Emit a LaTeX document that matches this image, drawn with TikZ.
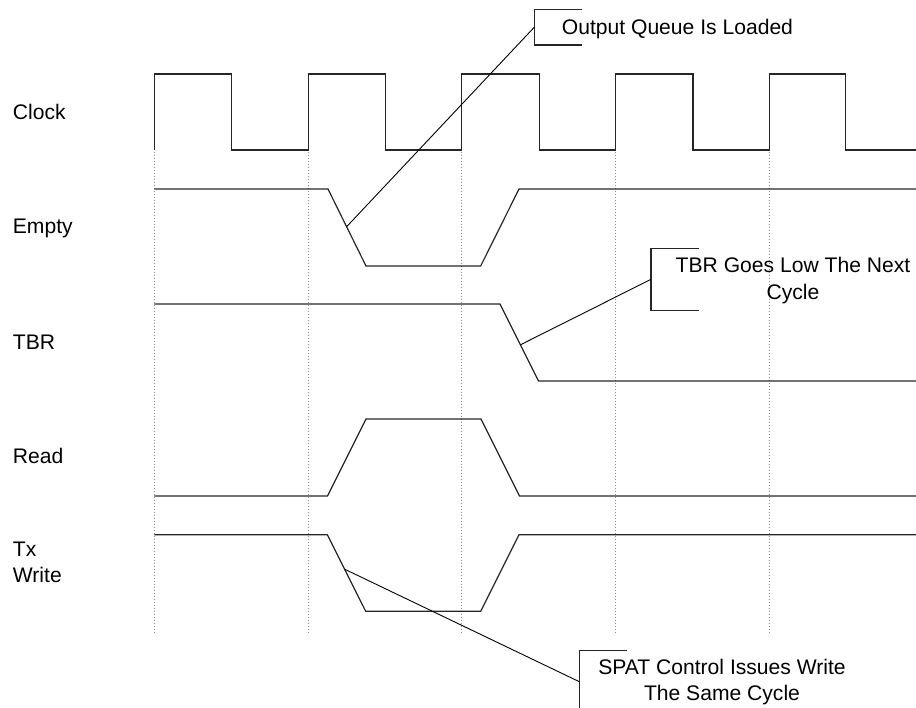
\documentclass[tikz,border=0pt]{standalone}
\usepackage{fontspec}
\setmainfont{Liberation Sans}
\usetikzlibrary{calc}
\begin{document}
\begin{tikzpicture}[x=1pt,y=-1pt,
  wave/.style={line width=1.2pt,draw=black!85,line join=miter},
  grid/.style={line width=0.8pt,draw=black!45,dash pattern=on 0.9pt off 2.1pt},
  lead/.style={line width=0.9pt,draw=black},
  brk/.style={line width=1.1pt,draw=black!85},
  txt/.style={inner sep=0pt,font=\fontsize{21.1}{26.3}\selectfont},
  lbl/.style={txt,anchor=base west,align=left}]
\useasboundingbox (0,0) rectangle (916,708);
% grid
\foreach \x in {154.3,308.3,461.7,615.4,769.1}
  \draw[grid] (\x,151.7) -- (\x,632);
% clock
\draw[wave] (154.3,150) -- (154.3,74) -- (231.7,74) -- (231.7,150) -- (308.3,150) -- (308.3,74)
  -- (385.7,74) -- (385.7,150) -- (461.7,150) -- (461.7,74) -- (539.2,74) -- (539.2,150)
  -- (615.4,150) -- (615.4,74) -- (692.9,74) -- (692.9,150) -- (769.1,150) -- (769.1,74)
  -- (845.7,74) -- (845.7,150) -- (916,150);
% empty
\coordinate (eA) at (328,189);
\coordinate (eB) at (366,266);
\draw[wave] (154.3,189) -- (eA) -- (eB) -- (480.7,266) -- (519,189) -- (916,189);
% TBR
\coordinate (tA) at (500,304);
\coordinate (tB) at (538.5,381);
\draw[wave] (154.3,304) -- (tA) -- (tB) -- (916,381);
% Read
\draw[wave] (154.3,496) -- (327.5,496) -- (366,419) -- (481,419) -- (519.5,496) -- (916,496);
% Tx write
\coordinate (xA) at (327.3,534.7);
\coordinate (xB) at (365.7,611.3);
\draw[wave] (154.3,534.7) -- (xA) -- (xB) -- (480.7,611.3) -- (519,534.7) -- (916,534.7);
% labels
\node[lbl] (lclk) at (12.7,119.4) {Clock};
\node[lbl] (lemp) at (12.7,234) {Empty};
\node[lbl] (ltbr) at (12.7,349.3) {TBR};
\node[lbl] (lrd) at (12.7,463.5) {Read};
\node[lbl] (ltx) at (12.7,582.7) {Tx\\Write};
% callout 1
\draw[brk] (582,9.3) -- (534.3,9.3) -- (534.3,45) -- (582,45);
\coordinate (c1) at (534.3,27.2);
\node[txt,anchor=base west] (t1) at (561.7,34.5) {Output Queue Is Loaded};
\coordinate (e1) at ($(eA)!0.49!(eB)$);
\draw[lead] (c1) -- (e1);
% callout 2
\draw[brk] (699,248.3) -- (651,248.3) -- (651,310.3) -- (699,310.3);
\coordinate (c2) at (651,279.3);
\node[txt,anchor=base,align=center] (t2) at (793,299.2) {TBR Goes Low The Next\\Cycle};
\coordinate (e2) at ($(tA)!0.53!(tB)$);
\draw[lead] (c2) -- (e2);
% callout 3
\draw[brk] (627,650.7) -- (579.3,650.7) -- (579.3,708);
\coordinate (c3) at (579.3,681.7);
\node[txt,anchor=base,align=center] (t3) at (722,700.8) {SPAT Control Issues Write\\The Same Cycle};
\coordinate (e3) at ($(xA)!0.45!(xB)$);
\draw[lead] (c3) -- (e3);
\end{tikzpicture}
\end{document}
